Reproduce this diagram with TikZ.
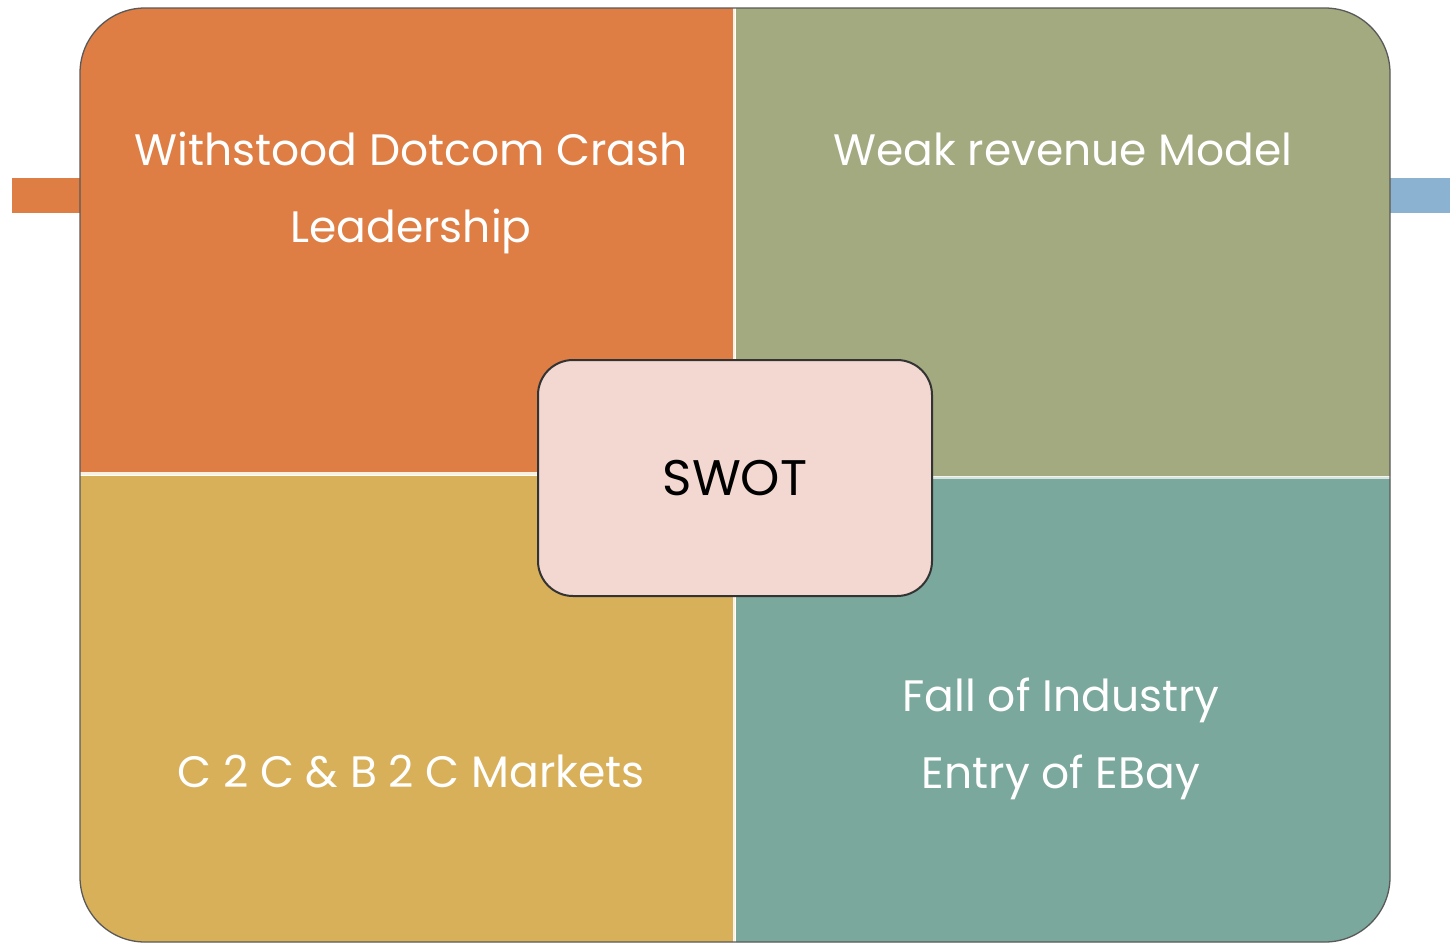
\documentclass[tikz,border=0pt]{standalone}
\usepackage{fontspec}
\setmainfont{Poppins}
\definecolor{swotorange}{HTML}{DE7E45}
\definecolor{swotolive}{HTML}{A3AA80}
\definecolor{swotgold}{HTML}{D9B05A}
\definecolor{swotteal}{HTML}{7BA89C}
\definecolor{swotpink}{HTML}{F2D8D0}
\definecolor{swotblue}{HTML}{8CB2D2}
\definecolor{swotcream}{HTML}{FBF0D8}
\begin{document}
\begin{tikzpicture}[x=1pt,y=-1pt,
    label/.style={text=white,font=\fontsize{44}{77}\selectfont,align=center,
      anchor=base,inner sep=0pt},%
    core/.style={draw=black!80,line width=2pt,fill=swotpink,
      rounded corners=35pt,minimum width=394pt,minimum height=236pt}] %
    \useasboundingbox (0,0) rectangle (1450,945);%
    % side bars behind the grid
    \fill[swotorange] (12,178) rectangle (82,213);%
    \fill[swotblue] (1388,178) rectangle (1450,213);%
    % four quadrants, only the outer corner rounded
    \fill[swotorange] (733,472) -- (80,472)
      [rounded corners=65pt] -- (80,8) [sharp corners] -- (733,8) -- cycle;%
    \fill[swotolive] (736,476) -- (736,8)
      [rounded corners=65pt] -- (1390,8) [sharp corners] -- (1390,476) -- cycle;%
    \fill[swotgold] (733,476) -- (733,942)
      [rounded corners=65pt] -- (80,942) [sharp corners] -- (80,476) -- cycle;%
    \fill[swotteal] (736,479) -- (1390,479)
      [rounded corners=65pt] -- (1390,942) [sharp corners] -- (736,942) -- cycle;%
    % light seams and the dark rim
    \draw[swotcream,line width=1.5pt] (734.5,8) -- (734.5,942);%
    \draw[swotcream,line width=1.5pt] (80,474) -- (734.5,474);%
    \draw[white!70!swotteal,line width=2pt] (734.5,477.5) -- (1390,477.5);%
    \draw[black!65,line width=1.3pt,rounded corners=65pt] (80,8) rectangle (1390,942);%

    \node[label] (str) at (411,242) {Withstood Dotcom Crash\\Leadership};%
    \node[label] (weak) at (1063,165) {Weak revenue Model};%
    \node[label] (opp) at (411,787) {C 2 C \& B 2 C Markets};%
    \node[label] (thr) at (1061,788) {Fall of Industry\\Entry of EBay};%

    \node[core,font=\fontsize{50}{60}\selectfont] (swot) at (735,478) {SWOT};%
  \end{tikzpicture}
\end{document}
